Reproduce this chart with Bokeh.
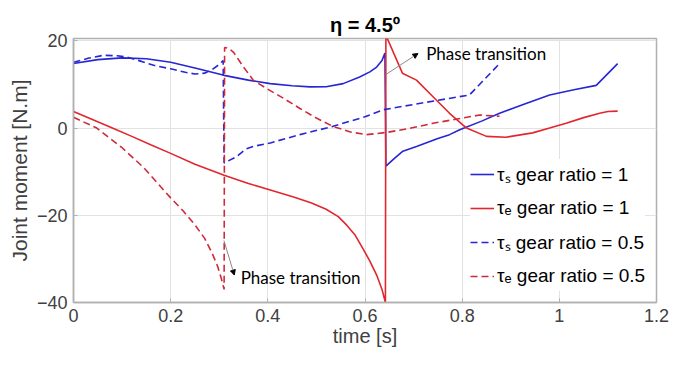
from bokeh.plotting import figure
from bokeh.models import (Legend, LegendItem, FixedTicker, CustomJSTickFormatter,
                          Label, Arrow, NormalHead, Range1d)
from bokeh.embed import file_html
from bokeh.resources import INLINE

# ---------------- data ----------------
ts1_t = [0, 0.05, 0.10, 0.15, 0.20, 0.25, 0.31, 0.36, 0.405, 0.45, 0.487, 0.52, 0.555,
         0.589, 0.61, 0.624, 0.635, 0.641, 0.643, 0.66, 0.678, 0.706, 0.75, 0.774, 0.795,
         0.84, 0.877, 0.93, 0.98, 1.03, 1.076, 1.12]
ts1_v = [14.8, 15.7, 16.1, 15.9, 15.1, 13.8, 12.1, 11.0, 10.2, 9.7, 9.45, 9.5, 10.2,
         11.7, 12.9, 14.0, 15.5, 17.2, -8.7, -7.0, -5.3, -4.2, -2.4, -1.5, -0.4,
         1.6, 3.4, 5.6, 7.6, 8.8, 9.8, 14.8]

te1_t = [0, 0.04, 0.08, 0.12, 0.16, 0.20, 0.25, 0.31, 0.36, 0.405, 0.453, 0.49, 0.52,
         0.545, 0.562, 0.58, 0.596, 0.61, 0.624, 0.635, 0.642, 0.643, 0.677, 0.706,
         0.74, 0.774, 0.809, 0.85, 0.89, 0.945, 0.98, 1.014, 1.05, 1.083, 1.10, 1.12]
te1_v = [3.8, 1.9, 0.0, -1.9, -3.9, -5.8, -8.3, -10.8, -12.7, -14.2, -15.8, -17.2, -18.6,
         -20.3, -22.2, -24.6, -27.7, -30.5, -33.7, -37.0, -40.0, 21.3, 12.6, 11.0,
         7.2, 3.4, 0.0, -1.9, -2.1, -1.1, 0.0, 1.1, 2.4, 3.4, 3.8, 3.9]

ts05_t = [0, 0.03, 0.062, 0.09, 0.11, 0.14, 0.165, 0.20, 0.23, 0.25, 0.27, 0.285, 0.30,
          0.308, 0.31, 0.335, 0.355, 0.37, 0.405, 0.466, 0.534, 0.60, 0.637, 0.72,
          0.815, 0.84, 0.877]
ts05_v = [15.1, 16.0, 16.7, 16.6, 16.3, 15.3, 14.4, 13.6, 12.8, 12.4, 12.6, 13.4, 14.6,
          15.5, -8.0, -6.6, -4.8, -4.2, -3.4, -1.5, 0.4, 2.6, 4.2, 5.8,
          7.6, 10.5, 14.8]

te05_t = [0, 0.048, 0.10, 0.144, 0.20, 0.225, 0.25, 0.27, 0.285, 0.297, 0.305,
          0.31, 0.311, 0.32, 0.33, 0.35, 0.37, 0.397, 0.43, 0.466, 0.50, 0.534, 0.57,
          0.603, 0.644, 0.69, 0.74, 0.79, 0.836, 0.877]
te05_v = [2.5, 0.0, -4.5, -9.0, -16.0, -18.9, -22.2, -25.3, -28.6, -31.8, -34.8,
          -37.0, 18.5, 18.3, 17.3, 14.0, 11.0, 9.1, 7.0, 4.5, 2.3, 0.4, -0.9,
          -1.5, -1.0, -0.1, 1.1, 2.1, 3.0, 2.7]

x_ticks = [0, 0.2, 0.4, 0.6, 0.8, 1, 1.2]
y_ticks = [-40, -20, 0, 20]
legend_labels = ["τₛ gear ratio = 1", "τₑ gear ratio = 1",
                 "τₛ gear ratio = 0.5", "τₑ gear ratio = 0.5"]
title_text = "η = 4.5º"
x_label = "time [s]"
y_label = "Joint moment [N.m]"
note_text = "Phase transition"

# ---------------- figure ----------------
BLUE = "#2626d4"
RED = "#e2262e"
RED_D = "#cf2a3a"
AX = "#b0b0b0"
TXT = "#404040"

p = figure(width=670, height=351, output_backend="svg", toolbar_location=None,
           x_range=Range1d(0, 1.2), y_range=Range1d(-40, 20.55),
           min_border_left=73, min_border_right=14, min_border_top=38,
           min_border_bottom=49)

p.title.text = title_text
p.title.align = "center"
p.title.text_font = "Liberation Sans"
p.title.text_font_size = "20px"
p.title.text_font_style = "bold"
p.title.text_color = "black"
p.title.standoff = 5
p.title.offset = 0

p.outline_line_color = AX
p.outline_line_width = 1.5
p.background_fill_color = "white"
p.border_fill_color = "white"

p.xgrid.grid_line_color = "#e2e2e2"
p.ygrid.grid_line_color = "#e2e2e2"
p.xgrid.grid_line_width = 1
p.ygrid.grid_line_width = 1

p.xaxis.ticker = FixedTicker(ticks=x_ticks)
p.yaxis.ticker = FixedTicker(ticks=y_ticks)
p.xaxis.formatter = CustomJSTickFormatter(code="return tick.toString();")

for ax in (p.xaxis, p.yaxis):
    ax.axis_line_color = AX
    ax.axis_line_width = 1.5
    ax.major_tick_line_color = AX
    ax.major_tick_in = 4
    ax.major_tick_out = 0
    ax.minor_tick_line_color = None
    ax.major_label_text_font = "Liberation Sans"
    ax.major_label_text_font_size = "18px"
    ax.major_label_text_color = TXT
    ax.axis_label_text_font = "Liberation Sans"
    ax.axis_label_text_font_size = "20px"
    ax.axis_label_text_font_style = "normal"
    ax.axis_label_text_color = TXT

p.yaxis.axis_label_text_font_size = "21px"
p.xaxis.axis_label = x_label
p.yaxis.axis_label = y_label
p.xaxis.major_label_standoff = 6
p.yaxis.major_label_standoff = 6
p.xaxis.axis_label_standoff = 0
p.yaxis.axis_label_standoff = 3

r1 = p.line(ts1_t, ts1_v, line_color=BLUE, line_width=1.6)
r2 = p.line(te1_t, te1_v, line_color=RED, line_width=1.6)
r3 = p.line(ts05_t, ts05_v, line_color=BLUE, line_width=1.6, line_dash="7 4")
r4 = p.line(te05_t, te05_v, line_color=RED_D, line_width=1.6, line_dash="7 4")

# annotations
p.add_layout(Arrow(x_start=0.643, y_start=12.3, x_end=0.709, y_end=17.1,
                   line_color="#8a8a8a", line_width=1,
                   end=NormalHead(size=5, fill_color="black", line_color="black")))
p.add_layout(Label(x=0.726, y=17.1, text=note_text, text_font="Lato",
                   text_font_size="17px", text_color="black",
                   text_baseline="middle", text_align="left"))
p.add_layout(Arrow(x_start=0.3097, y_start=-25.8, x_end=0.331, y_end=-33.7,
                   line_color="#8a8a8a", line_width=1,
                   end=NormalHead(size=5, fill_color="black", line_color="black")))
p.add_layout(Label(x=0.344, y=-34.3, text=note_text, text_font="Lato",
                   text_font_size="17px", text_color="black",
                   text_baseline="middle", text_align="left"))

legend = Legend(items=[LegendItem(label=legend_labels[0], renderers=[r1]),
                       LegendItem(label=legend_labels[1], renderers=[r2]),
                       LegendItem(label=legend_labels[2], renderers=[r3]),
                       LegendItem(label=legend_labels[3], renderers=[r4])],
                location=(397, 11))
legend.label_text_font = "Liberation Sans"
legend.label_text_font_size = "19px"
legend.label_text_color = "black"
legend.glyph_width = 24
legend.glyph_height = 30
legend.label_height = 30
legend.spacing = 4
legend.padding = 6
legend.margin = 0
legend.label_standoff = 3
legend.border_line_color = None
legend.background_fill_color = "white"
legend.background_fill_alpha = 1.0
p.add_layout(legend)

open("out.html", "w").write(file_html(p, INLINE))
